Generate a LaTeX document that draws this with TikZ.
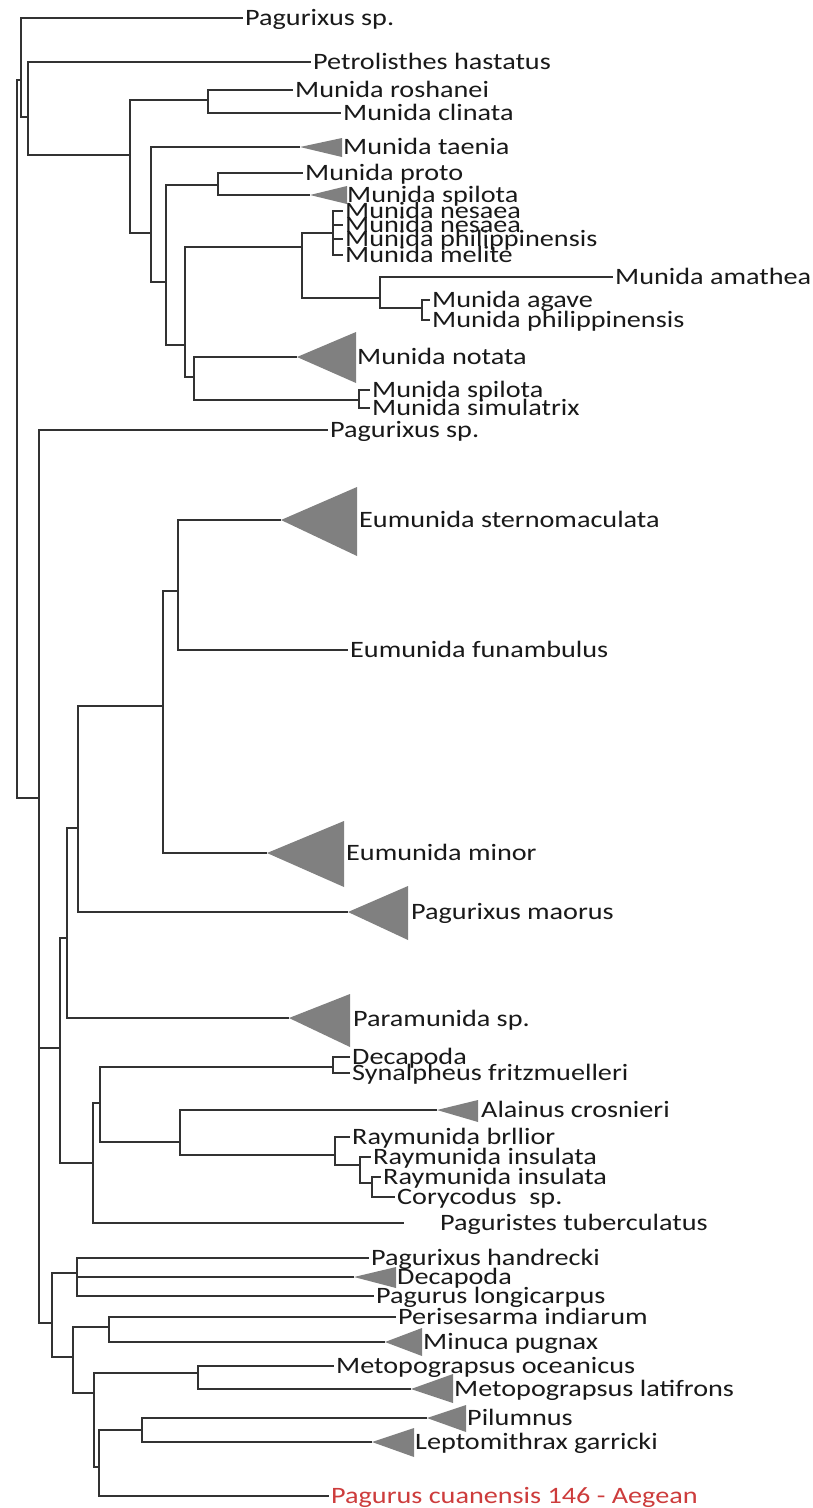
\documentclass[tikz,border=0pt]{standalone}
\usepackage{fontspec}
\newfontfamily\labfont{Carlito}[FakeStretch=1.2]
\definecolor{lc}{RGB}{50,50,50}
\definecolor{tc}{RGB}{128,128,128}
\definecolor{rc}{RGB}{205,60,60}
\newcommand\cladetri[4]{\fill[tc] (#1) -- (#2,#3) -- (#2,#4) -- cycle;}
\begin{document}
\begin{tikzpicture}[x=1pt,y=-1pt,
 br/.style={draw=lc,line width=1.6pt},
 tk/.style={draw=lc,line width=1.2pt},
 lab/.style={anchor=west,inner xsep=2pt,inner ysep=0pt,text height=15pt,text depth=0pt,
   font=\labfont\fontsize{23.5}{23.5}\selectfont,text=black!90}]
\fill[white] (0,0) rectangle (812,1508);
\useasboundingbox (0,0) rectangle (812,1508);
% internal nodes
\coordinate (R0) at (17,440);
\coordinate (A) at (21,80);
\coordinate (C) at (28,117);
\coordinate (D) at (130,155);
\coordinate (E) at (208,100);
\coordinate (F) at (151,233);
\coordinate (G) at (166,282);
\coordinate (H) at (218,185);
\coordinate (I) at (185,345);
\coordinate (J) at (302,247);
\coordinate (L) at (333,233);
\coordinate (M) at (380,298);
\coordinate (N) at (422,308);
\coordinate (K) at (194,377);
\coordinate (O) at (359,400);
\coordinate (B) at (39,798);
\coordinate (P) at (60,1048);
\coordinate (R) at (67,938);
\coordinate (T) at (78,828);
\coordinate (U) at (163,706);
\coordinate (V) at (178,591);
\coordinate (S) at (93,1163);
\coordinate (W) at (100,1103);
\coordinate (X) at (333,1067);
\coordinate (Y) at (180,1142);
\coordinate (Z) at (335,1155);
\coordinate (Z2) at (360,1165);
\coordinate (Z3) at (372,1183);
\coordinate (Q) at (52,1323);
\coordinate (Q1) at (77,1273);
\coordinate (Q2) at (73,1357);
\coordinate (Q3) at (109,1327);
\coordinate (Q4) at (94,1393);
\coordinate (Q5) at (198,1373);
\coordinate (Q6) at (99,1467);
\coordinate (Q7) at (142,1430);
% triangle tips
\coordinate (taeT) at (300,147);
\coordinate (spiT) at (310,195);
\coordinate (notT) at (297,357);
\coordinate (steT) at (281,520);
\coordinate (minT) at (267,853);
\coordinate (maoT) at (348,912);
\coordinate (parT) at (289,1018);
\coordinate (alaT) at (437,1110);
\coordinate (decT) at (354,1277);
\coordinate (mpuT) at (385,1342);
\coordinate (latT) at (411,1389);
\coordinate (pilT) at (427,1418);
\coordinate (lepT) at (372,1442);
\coordinate (tubE) at (404,1223);
% triangles
\cladetri{taeT}{342}{138}{157}
\cladetri{spiT}{347}{186}{204}
\cladetri{notT}{356}{332}{383}
\cladetri{steT}{357}{487}{556}
\cladetri{minT}{344}{821}{887}
\cladetri{maoT}{408}{886}{940}
\cladetri{parT}{350}{994}{1047}
\cladetri{alaT}{478}{1100}{1122}
\cladetri{decT}{396}{1267}{1288}
\cladetri{mpuT}{422}{1328}{1356}
\cladetri{latT}{453}{1374}{1403}
\cladetri{pilT}{466}{1405}{1432}
\cladetri{lepT}{414}{1428}{1457}
% labels
\node[lab] (t1) at (243,18) {Pagurixus sp.};
\node[lab] (t2) at (311,62) {Petrolisthes hastatus};
\node[lab] (t3) at (293,90) {Munida roshanei};
\node[lab] (t4) at (341,113) {Munida clinata};
\node[lab] (t5) at (341,147) {Munida taenia};
\node[lab] (t6) at (303,173) {Munida proto};
\node[lab] (t7) at (345,195) {Munida spilota};
\node[lab] (t8) at (343,211) {Munida nesaea};
\node[lab] (t9) at (343,225) {Munida nesaea};
\node[lab] (t10) at (343,239) {Munida philippinensis};
\node[lab] (t11) at (343,255) {Munida melite};
\node[lab] (t12) at (613,277) {Munida amathea};
\node[lab] (t13) at (430,300) {Munida agave};
\node[lab] (t14) at (430,320) {Munida philippinensis};
\node[lab] (t15) at (355,357) {Munida notata};
\node[lab] (t16) at (370,390) {Munida spilota};
\node[lab] (t17) at (370,408) {Munida simulatrix};
\node[lab] (t18) at (328,430) {Pagurixus sp.};
\node[lab] (t19) at (357,520) {Eumunida sternomaculata};
\node[lab] (t20) at (348,650) {Eumunida funambulus};
\node[lab] (t21) at (344,853) {Eumunida minor};
\node[lab] (t22) at (409,912) {Pagurixus maorus};
\node[lab] (t23) at (351,1019) {Paramunida sp.};
\node[lab] (t24) at (350,1057) {Decapoda};
\node[lab] (t25) at (350,1073) {Synalpheus fritzmuelleri};
\node[lab] (t26) at (479,1110) {Alainus crosnieri};
\node[lab] (t27) at (350,1137) {Raymunida brllior};
\node[lab] (t28) at (371,1157) {Raymunida insulata};
\node[lab] (t29) at (381,1177) {Raymunida insulata};
\node[lab] (t30) at (395,1197) {Corycodus\ \ sp.};
\node[lab] (t31) at (438,1223) {Paguristes tuberculatus};
\node[lab] (t32) at (369,1258) {Pagurixus handrecki};
\node[lab] (t33) at (395,1277) {Decapoda};
\node[lab] (t34) at (374,1296) {Pagurus longicarpus};
\node[lab] (t35) at (396,1317) {Perisesarma indiarum};
\node[lab] (t36) at (421,1342) {Minuca pugnax};
\node[lab] (t37) at (334,1366) {Metopograpsus oceanicus};
\node[lab] (t38) at (452,1389) {Metopograpsus latifrons};
\node[lab] (t39) at (465,1418) {Pilumnus};
\node[lab] (t40) at (413,1442) {Leptomithrax garricki};
\node[lab,text=rc] (t41) at (329,1496) {Pagurus cuanensis 146 - Aegean};
% branches
\draw[br] (R0) |- (A);
\draw[br] (R0) |- (B);
\draw[br] (A) |- (t1.west);
\draw[br] (A) |- (C);
\draw[br] (C) |- (t2.west);
\draw[br] (C) |- (D);
\draw[br] (D) |- (E);
\draw[br] (D) |- (F);
\draw[br] (E) |- (t3.west);
\draw[br] (E) |- (t4.west);
\draw[br] (F) |- (taeT);
\draw[br] (F) |- (G);
\draw[br] (G) |- (H);
\draw[br] (G) |- (I);
\draw[br] (H) |- (t6.west);
\draw[br] (H) |- (spiT);
\draw[br] (I) |- (J);
\draw[br] (I) |- (K);
\draw[br] (J) |- (L);
\draw[br] (J) |- (M);
\draw[tk] (L) |- (t8.west);
\draw[tk] (L) |- (t9.west);
\draw[tk] (L) |- (t10.west);
\draw[tk] (L) |- (t11.west);
\draw[br] (M) |- (t12.west);
\draw[br] (M) |- (N);
\draw[tk] (N) |- (t13.west);
\draw[tk] (N) |- (t14.west);
\draw[br] (K) |- (notT);
\draw[br] (K) |- (O);
\draw[tk] (O) |- (t16.west);
\draw[tk] (O) |- (t17.west);
\draw[br] (B) |- (t18.west);
\draw[br] (B) |- (P);
\draw[br] (B) |- (Q);
\draw[br] (P) |- (R);
\draw[br] (P) |- (S);
\draw[br] (R) |- (T);
\draw[br] (R) |- (parT);
\draw[br] (T) |- (U);
\draw[br] (T) |- (maoT);
\draw[br] (U) |- (V);
\draw[br] (U) |- (minT);
\draw[br] (V) |- (steT);
\draw[br] (V) |- (t20.west);
\draw[br] (S) |- (W);
\draw[br] (S) |- (tubE);
\draw[br] (W) |- (X);
\draw[br] (W) |- (Y);
\draw[tk] (X) |- (t24.west);
\draw[tk] (X) |- (t25.west);
\draw[br] (Y) |- (alaT);
\draw[br] (Y) |- (Z);
\draw[tk] (Z) |- (t27.west);
\draw[tk] (Z) |- (Z2);
\draw[tk] (Z2) |- (t28.west);
\draw[tk] (Z2) |- (Z3);
\draw[tk] (Z3) |- (t29.west);
\draw[tk] (Z3) |- (t30.west);
\draw[br] (Q) |- (Q1);
\draw[br] (Q) |- (Q2);
\draw[br] (Q1) |- (t32.west);
\draw[br] (Q1) |- (decT);
\draw[br] (Q1) |- (t34.west);
\draw[br] (Q2) |- (Q3);
\draw[br] (Q2) |- (Q4);
\draw[br] (Q3) |- (t35.west);
\draw[br] (Q3) |- (mpuT);
\draw[br] (Q4) |- (Q5);
\draw[br] (Q4) |- (Q6);
\draw[br] (Q5) |- (t37.west);
\draw[br] (Q5) |- (latT);
\draw[br] (Q6) |- (Q7);
\draw[br] (Q6) |- (t41.west);
\draw[br] (Q7) |- (pilT);
\draw[br] (Q7) |- (lepT);
\end{tikzpicture}
\end{document}
